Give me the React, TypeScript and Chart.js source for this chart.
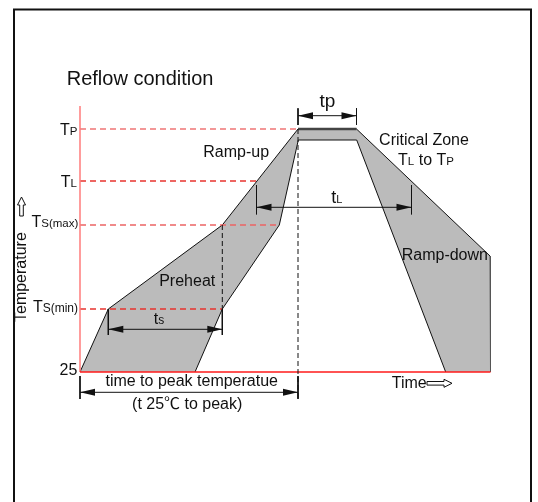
import React, { useEffect, useRef } from 'react';
import { Chart, registerables } from 'chart.js';

Chart.register(...registerables);

const FONT = '"Liberation Sans", Arial, "DejaVu Sans", "Noto Sans CJK SC", sans-serif';
const CJK_FONT = '"Noto Sans CJK SC", "DejaVu Sans", sans-serif';

// Temperature levels (schematic units, 25 = ambient)
const T25 = 25;
const TSMIN = 88;
const TSMAX = 172;
const TL = 216;
const TP = 268;
const T_INNER_PEAK = 257;
const T_RAMPDOWN_END = 141;

// Profile envelope: upper (outer) boundary
const outerTime = [0, 28.3, 142.3, 218, 276.5, 410, 410.5];
const outerTemp = [T25, TSMIN, TSMAX, TP, TP, T_RAMPDOWN_END, T25];
// Profile envelope: lower (inner) boundary
const innerTime = [115, 142.3, 199.3, 218.3, 276.7, 365.7];
const innerTemp = [T25, TSMIN, TSMAX, T_INNER_PEAK, T_INNER_PEAK, T25];

// Reference levels (dashed red) and where they end in time
const levelTemps = [TP, TL, TSMAX, TSMIN];
const levelEnds = [218, 176.8, 199.3, 142.3];
const levelColors = ['#f07676', '#e8342f', '#ec6464', '#e8342f'];

// Dimension arrows: tp, tL, ts, time to peak
const dimStart = [218, 176.5, 28.3, 0];
const dimEnd = [276.5, 331.5, 142.3, 218];
const dimLevel = [281.3, 189.7, 67.7, 4.7];
const dimTickTop = [288.7, 212, 88, 21];
const dimTickBottom = [272, 182.7, 62, -2];

// Axis extents
const AXIS_TOP = 291;
const PEAK_TIME = 218;
const AXIS_END = 410.5;

type Part = [string, number, string?];
type Label = { parts: Part[]; t: number; v: number; align: 'left' | 'right' | 'center' };

const labels: Label[] = [
  { parts: [['Reflow condition', 20]], t: -13.3, v: 312, align: 'left' },
  { parts: [['T', 16], ['P', 11.5]], t: -2.5, v: 262, align: 'right' },
  { parts: [['T', 16], ['L', 11.5]], t: -3, v: 210.3, align: 'right' },
  { parts: [['T', 16], ['S(max)', 11.5]], t: -1.7, v: 169.7, align: 'right' },
  { parts: [['T', 16], ['S(min)', 12]], t: -2, v: 85.3, align: 'right' },
  { parts: [['25', 16]], t: -2.7, v: 22, align: 'right' },
  { parts: [['Ramp-up', 16]], t: 123.3, v: 240.3, align: 'left' },
  { parts: [['Critical Zone', 16]], t: 344, v: 252, align: 'center' },
  { parts: [['T', 16], ['L', 11.5], [' to T', 16], ['P', 11.5]], t: 346, v: 232, align: 'center' },
  { parts: [['tp', 19]], t: 247.5, v: 290, align: 'center' },
  { parts: [['t', 18], ['L', 11]], t: 256.7, v: 193.7, align: 'center' },
  { parts: [['t', 16], ['s', 12]], t: 79, v: 72.7, align: 'center' },
  { parts: [['Preheat', 16]], t: 79.2, v: 111, align: 'left' },
  { parts: [['Ramp-down', 16]], t: 321.7, v: 137, align: 'left' },
  { parts: [['time to peak temperatue', 16]], t: 111.7, v: 11, align: 'center' },
  { parts: [['(t 25', 16], ['\u2103', 16, CJK_FONT], [' to peak)', 16]], t: 107.2, v: -12.3, align: 'center' },
  { parts: [['Time', 16]], t: 311.7, v: 8.7, align: 'left' },
];

const pts = (xs: number[], ys: number[]) => xs.map((x, i) => ({ x, y: ys[i] }));
const seg = (x0: number, y0: number, x1: number, y1: number) => [
  { x: x0, y: y0 },
  { x: x1, y: y1 },
];

function buildDatasets() {
  const ds: any[] = [];
  const add = (data: any[], color: string, width: number, dash: number[], order: number, extra: any = {}) =>
    ds.push({
      data,
      borderColor: color,
      borderWidth: width,
      borderDash: dash,
      showLine: true,
      pointRadius: 0,
      tension: 0,
      fill: false,
      order,
      clip: false,
      ...extra,
    });

  const outer = pts(outerTime, outerTemp);
  const inner = pts(innerTime, innerTemp);
  const poly = [...outer, ...inner.slice().reverse()];
  add(poly, 'rgba(0,0,0,0)', 0, [], 20, { fill: 'shape', backgroundColor: '#bbbbbb' });
  add(outer.slice(0, 6), '#111111', 1, [], 10);
  add(outer.slice(5), '#555555', 1, [], 10);
  add(inner, '#111111', 1, [], 10);
  add(seg(outerTime[3], TP, outerTime[4], TP), '#444444', 2.5, [], 9);

  // red axis
  add(seg(0, T25, 0, AXIS_TOP), '#ff7b7b', 1.5, [], 6);
  add(seg(0, T25, AXIS_END, T25), '#ff1a1a', 1.5, [], 5);

  // dashed level lines
  levelTemps.forEach((lv, i) => add(seg(0, lv, levelEnds[i], lv), levelColors[i], 1.5, [6, 4], 7));

  // black dashed verticals
  add(seg(PEAK_TIME, TP, PEAK_TIME, -2), '#111111', 1, [5, 3], 4);
  add(seg(outerTime[2], TSMAX, outerTime[2], TSMIN), '#111111', 1, [5, 3], 4);

  // dimension lines + ticks
  dimStart.forEach((s, i) => {
    add(seg(s, dimLevel[i], dimEnd[i], dimLevel[i]), '#111111', 1, [], 3);
    add(seg(s, dimTickTop[i], s, dimTickBottom[i]), '#111111', 1, [], 3);
    add(seg(dimEnd[i], dimTickTop[i], dimEnd[i], dimTickBottom[i]), '#111111', 1, [], 3);
  });
  return ds;
}

function richText(ctx: CanvasRenderingContext2D, parts: Part[], x: number, y: number, align: string) {
  let total = 0;
  parts.forEach(([s, size, fam]) => {
    ctx.font = `${size}px ${fam || FONT}`;
    total += ctx.measureText(s).width;
  });
  let cx = align === 'left' ? x : align === 'right' ? x - total : x - total / 2;
  ctx.textAlign = 'left';
  ctx.textBaseline = 'alphabetic';
  parts.forEach(([s, size, fam]) => {
    ctx.font = `${size}px ${fam || FONT}`;
    ctx.fillText(s, cx, y);
    cx += ctx.measureText(s).width;
  });
}

const decorPlugin = {
  id: 'decor',
  beforeDraw(chart: any) {
    const { ctx, width, height } = chart;
    ctx.save();
    ctx.fillStyle = '#ffffff';
    ctx.fillRect(0, 0, width, height);
    ctx.restore();
  },
  afterDatasetsDraw(chart: any) {
    const ctx: CanvasRenderingContext2D = chart.ctx;
    const xs = chart.scales.x;
    const ys = chart.scales.y;
    const X = (t: number) => xs.getPixelForValue(t);
    const Y = (v: number) => ys.getPixelForValue(v);
    ctx.save();

    // frame
    ctx.strokeStyle = '#111111';
    ctx.lineWidth = 2;
    ctx.strokeRect(14, 9.5, 517, 600);

    // arrowheads
    ctx.fillStyle = '#111111';
    const head = (tipX: number, y: number, dir: number) => {
      ctx.beginPath();
      ctx.moveTo(tipX, y);
      ctx.lineTo(tipX - dir * 15, y - 3.5);
      ctx.lineTo(tipX - dir * 15, y + 3.5);
      ctx.closePath();
      ctx.fill();
    };
    dimStart.forEach((s, i) => {
      const y = Y(dimLevel[i]);
      head(X(s), y, -1);
      head(X(dimEnd[i]), y, 1);
    });

    // texts
    ctx.fillStyle = '#111111';
    labels.forEach((l) => richText(ctx, l.parts, X(l.t), Y(l.v), l.align));

    // rotated axis title
    ctx.save();
    ctx.translate(X(-54), Y(75));
    ctx.rotate(-Math.PI / 2);
    ctx.font = `16px ${FONT}`;
    ctx.textAlign = 'left';
    ctx.fillText('Temperature', 0, 0);
    ctx.restore();

    // hollow up arrow
    ctx.strokeStyle = '#111111';
    ctx.lineWidth = 1;
    ctx.fillStyle = '#ffffff';
    const ux = X(-58.5);
    const uy0 = Y(200);
    const uy1 = Y(181);
    ctx.beginPath();
    ctx.moveTo(ux, uy0);
    ctx.lineTo(ux + 4, uy0 + 8);
    ctx.lineTo(ux + 1.8, uy0 + 8);
    ctx.lineTo(ux + 1.8, uy1);
    ctx.lineTo(ux - 1.8, uy1);
    ctx.lineTo(ux - 1.8, uy0 + 8);
    ctx.lineTo(ux - 4, uy0 + 8);
    ctx.closePath();
    ctx.fill();
    ctx.stroke();

    // hollow right arrow after "Time"
    const rx0 = X(347);
    const rx1 = X(372);
    const ry = Y(13.7);
    ctx.beginPath();
    ctx.moveTo(rx1, ry);
    ctx.lineTo(rx1 - 8, ry - 4);
    ctx.lineTo(rx1 - 8, ry - 1.8);
    ctx.lineTo(rx0, ry - 1.8);
    ctx.lineTo(rx0, ry + 1.8);
    ctx.lineTo(rx1 - 8, ry + 1.8);
    ctx.lineTo(rx1 - 8, ry + 4);
    ctx.closePath();
    ctx.fill();
    ctx.stroke();

    ctx.restore();
  },
};

export default function App() {
  const ref = useRef<HTMLCanvasElement>(null);
  useEffect(() => {
    if (!ref.current) return;
    const chart = new Chart(ref.current, {
      type: 'scatter',
      data: { datasets: buildDatasets() },
      options: {
        animation: false,
        responsive: false,
        maintainAspectRatio: false,
        events: [],
        layout: { padding: 0 },
        plugins: { legend: { display: false }, tooltip: { enabled: false } },
        scales: {
          x: { type: 'linear', display: false, min: -80, max: 458 },
          y: { type: 'linear', display: false, min: -105, max: 397 },
        },
      },
      plugins: [decorPlugin],
    } as any);
    return () => chart.destroy();
  }, []);
  return (
    <div style={{ position: 'fixed', left: 0, top: 0, width: 538, height: 502, background: '#fff' }}>
      <canvas ref={ref} width={538} height={502} style={{ display: 'block' }} />
    </div>
  );
}
